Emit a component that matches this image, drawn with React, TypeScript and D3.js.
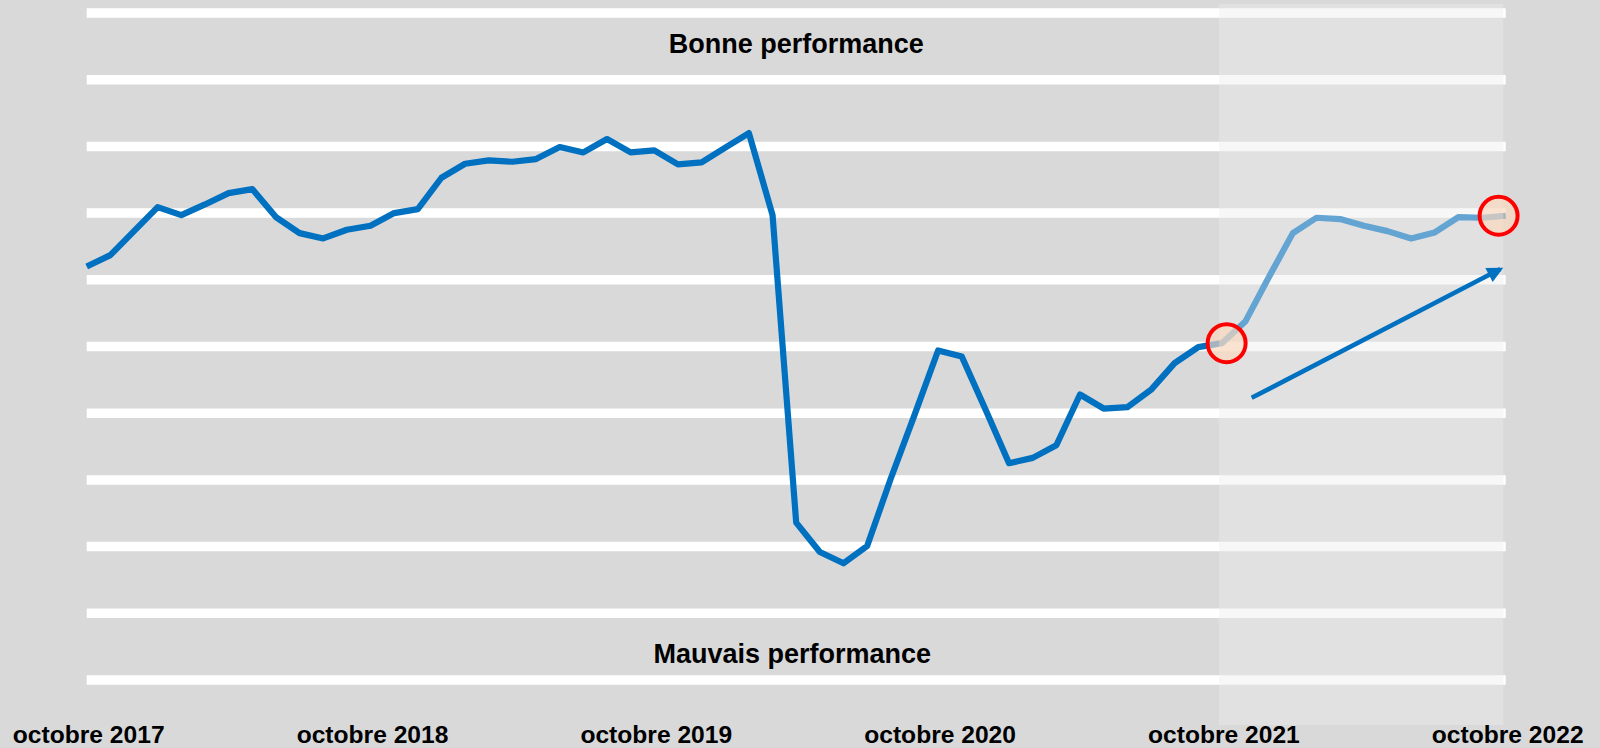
import * as d3 from "d3";

// monthly index, octobre 2017 (0) .. octobre 2022 (60)
const perfValues = [
  6.2, 6.37, 6.73, 7.09, 6.97, 7.13, 7.3, 7.36, 6.94, 6.7, 6.62, 6.75, 6.81,
  7.0, 7.06, 7.53, 7.74, 7.79, 7.77, 7.81, 7.99, 7.91, 8.11, 7.91, 7.94, 7.73,
  7.76, 7.98, 8.2, 6.97, 2.36, 1.92, 1.75, 2.01, 3.02, 3.97, 4.94, 4.85, 4.06,
  3.25, 3.33, 3.52, 4.28, 4.07, 4.09, 4.35, 4.75, 4.99, 5.05, 5.38, 6.05, 6.7,
  6.93, 6.91, 6.81, 6.73, 6.62, 6.71, 6.94, 6.93, 6.96,
];

const tickMonths = [0, 12, 24, 36, 48, 60];
const tickLabels = [
  "octobre 2017",
  "octobre 2018",
  "octobre 2019",
  "octobre 2020",
  "octobre 2021",
  "octobre 2022",
];

const gridLevels = [0, 1, 2, 3, 4, 5, 6, 7, 8, 9, 10];

const topLabel = "Bonne performance";
const bottomLabel = "Mauvais performance";

// highlighted points (month, value) and trend arrow
const circleMonths = [48.2, 59.7];
const circleValues = [5.05, 6.96];
const arrowMonths = [49.26, 60.1];
const arrowValues = [4.23, 6.22];

const W = 1600;
const H = 748;
const FONT = "'Liberation Sans', Arial, sans-serif";

export default function App() {
  const x = d3.scaleLinear().domain([0, 60]).range([86.7, 1505.7]);
  const y = d3.scaleLinear().domain([0, 10]).range([680, 13]);

  const line = d3
    .line<number>()
    .x((_, i) => x(i))
    .y((d) => y(d));

  const midX = (x(0) + x(60)) / 2;

  // lighter zone over the last year
  const zoneX0 = x(47.88);
  const zoneX1 = x(59.9);

  const ax0 = x(arrowMonths[0]);
  const ay0 = y(arrowValues[0]);
  const ax1 = x(arrowMonths[1]);
  const ay1 = y(arrowValues[1]);

  return (
    <svg
      width={W}
      height={H}
      style={{ position: "absolute", left: 0, top: 0, display: "block" }}
    >
      <defs>
        <marker
          id="arrowHead"
          viewBox="0 0 10 10"
          refX="8"
          refY="5"
          markerUnits="userSpaceOnUse"
          markerWidth="19"
          markerHeight="16"
          orient="auto"
        >
          <path d="M0,0 L10,5 L0,10 Z" fill="#0070c0" />
        </marker>
      </defs>
      <rect width={W} height={H} fill="#d9d9d9" />

      {/* grid */}
      {gridLevels.map((g) => (
        <line
          key={g}
          x1={x(0)}
          x2={x(60)}
          y1={y(g)}
          y2={y(g)}
          stroke="#ffffff"
          strokeWidth={9.5}
        />
      ))}

      {/* series */}
      <path
        d={line(perfValues) ?? ""}
        fill="none"
        stroke="#0070c0"
        strokeWidth={6.2}
        strokeLinejoin="round"
      />

      {/* light overlay on the last year */}
      <rect
        x={zoneX0}
        y={4}
        width={zoneX1 - zoneX0}
        height={721}
        fill="#ececec"
        opacity={0.42}
      />

      {/* zone labels */}
      <text
        x={midX}
        y={y(9.5) + 7}
        textAnchor="middle"
        fontFamily={FONT}
        fontWeight="bold"
        fontSize={27}
        fill="#000"
      >
        {topLabel}
      </text>
      <text
        x={midX - 4}
        y={y(0.5) + 16.5}
        textAnchor="middle"
        fontFamily={FONT}
        fontWeight="bold"
        fontSize={27}
        fill="#000"
      >
        {bottomLabel}
      </text>

      {/* highlighted points */}
      {circleMonths.map((m, i) => (
        <circle
          key={m}
          cx={x(m)}
          cy={y(circleValues[i])}
          r={19}
          fill="rgba(250, 216, 188, 0.66)"
          stroke="#ff0000"
          strokeWidth={4}
        />
      ))}

      {/* trend arrow */}
      <line
        x1={ax0}
        y1={ay0}
        x2={ax1 - (ax1 - ax0) * 0.03}
        y2={ay1 - (ay1 - ay0) * 0.03}
        stroke="#0070c0"
        strokeWidth={4.5}
        markerEnd="url(#arrowHead)"
      />

      {/* x axis labels */}
      {tickMonths.map((m, i) => (
        <text
          key={m}
          x={x(m) + 2}
          y={743}
          textAnchor="middle"
          fontFamily={FONT}
          fontWeight="bold"
          fontSize={24.6}
          fill="#000"
        >
          {tickLabels[i]}
        </text>
      ))}
    </svg>
  );
}
